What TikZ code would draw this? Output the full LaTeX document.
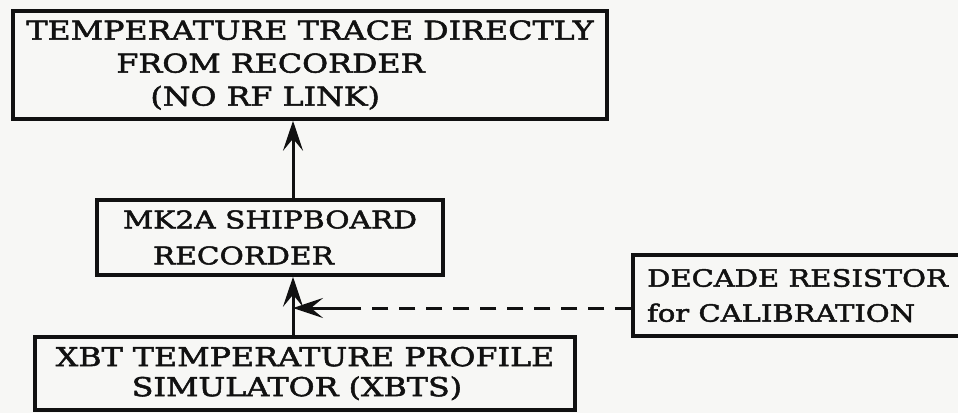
\documentclass[tikz,border=0pt]{standalone}
\usepackage{fontspec}
\setmainfont{DejaVu Serif}[FakeStretch=1.22, FakeBold=2]
\usepackage{tikz}
\usetikzlibrary{positioning, arrows.meta, calc}
\definecolor{inkblack}{HTML}{111111}
\definecolor{paper}{HTML}{F7F7F5}

\tikzset{
  blockbox/.style={draw=inkblack, line width=3.5pt, inner sep=0pt, align=left,
                   text=inkblack, font=\fontsize{26}{33}\selectfont},
  smallbox/.style={blockbox, font=\fontsize{23.8}{35}\selectfont},
  feed/.style={draw=inkblack, line width=3pt,
               -{Stealth[length=30pt, width=20pt, inset=12pt]}},
}

\begin{document}
\begin{tikzpicture}[x=1pt, y=-1pt]
  \useasboundingbox[fill=paper] (0,0) rectangle (958,413);
  % boxes
  \node[blockbox, minimum width=594pt, minimum height=108pt] (trace) at (310,65) {%
    TEMPERATURE TRACE DIRECTLY\\
    \hspace*{90pt}FROM RECORDER\\
    \hspace*{124pt}(NO RF LINK)};
  \node[smallbox, font=\fontsize{24.3}{36}\selectfont,
        minimum width=346pt, minimum height=75pt] (rec) at (270,237.5) {%
    MK2A SHIPBOARD\\
    \hspace*{30pt}RECORDER};
  \node[blockbox, minimum width=540pt, minimum height=73pt] (xbts) at (305,373.5) {%
    XBT TEMPERATURE PROFILE\\[-3pt]
    \hspace*{76pt}SIMULATOR (XBTS)};
  \node[smallbox, minimum width=329pt, minimum height=81pt] (decade) at (797.5,295.5) {%
    DECADE RESISTOR\\
    for CALIBRATION};
  % signal path
  \coordinate (tap) at (293,308);
  \draw[feed] (xbts.north -| tap) -- (rec.south -| tap);
  \draw[feed] (rec.north -| tap) -- (trace.south -| tap);
  % calibration feed
  \draw[draw=inkblack, line width=3pt, dash pattern=on 16pt off 11pt]
    (decade.west |- tap) -- ++(-270,0) coordinate (solidend);
  \draw[feed] (solidend) -- (tap);
\end{tikzpicture}
\end{document}
